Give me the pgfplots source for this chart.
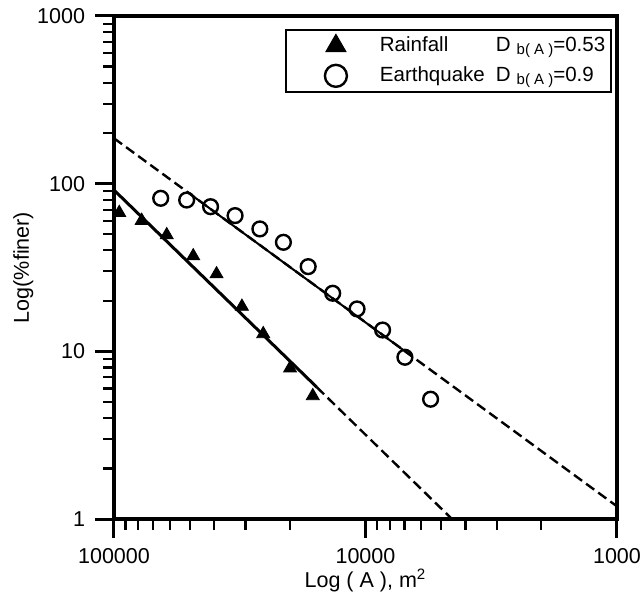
\documentclass[border=0pt]{standalone}
\usepackage{pgfplots}
\pgfplotsset{compat=1.18}
\usepackage{fontspec}
\setmainfont{Liberation Sans}

\newcommand{\dba}{D\hspace{3bp}\raisebox{-1.5bp}{\fontsize{7.5}{7.5}\selectfont b( A )}}

\begin{document}
\begin{tikzpicture}
\begin{axis}[
    width=251.5bp, height=251.5bp, scale only axis,
    xmode=log, ymode=log,
    x dir=reverse,
    xmin=1000, xmax=100000,
    ymin=1, ymax=1000,
    xtick={1000,10000,100000},
    xticklabels={1000,10000,100000},
    ytick={1,10,100,1000},
    yticklabels={1,10,100,1000},
    minor xtick={2000,3000,4000,5000,6000,7000,8000,9000,20000,30000,40000,50000,60000,70000,80000,90000},
    minor ytick={2,3,4,5,6,7,8,9,20,30,40,50,60,70,80,90,200,300,400,500,600,700,800,900},
    xtick pos=bottom, ytick pos=left,
    tick align=outside,
    major tick length=9.5bp, minor tick length=5.3bp,
    major tick style={line width=1.5bp, black},
    minor tick style={line width=1.1bp, black},
    axis line style={line width=1.7bp},
    tick label style={font=\fontsize{10.8}{12}\selectfont},
    xticklabel shift=1.5bp, yticklabel shift=1.5bp,
    label style={font=\fontsize{10.8}{12}\selectfont},
    xlabel={Log ( A ), m\textsuperscript{2}},
    ylabel={Log(\%finer)},
    xlabel style={at={(axis description cs:0.5,-0.137)}, anchor=base},
    ylabel style={at={(axis description cs:-0.169,0.5)}, anchor=base, rotate=0},
    legend style={at={(axis description cs:0.99,0.974)}, anchor=north east,
        draw=black, line width=0.75bp, inner xsep=2bp, inner ysep=2bp,
        font=\fontsize{10.3}{12}\selectfont,
        row sep=3bp,
        nodes={inner sep=1bp},
        cells={anchor=west}},
    legend image code/.code={
        \path[draw=none, fill=none] (-23bp,-6bp) rectangle (21bp,6bp);
        \draw[#1, mark size=5.5bp] plot coordinates {(0bp,0bp)};
    },
]
% fitted lines
\addplot[black, line width=1.5bp, forget plot] coordinates {(100000,91.6) (15600,6.1)};
\addplot[black, line width=1.2bp, dash pattern=on 5bp off 2.5bp, forget plot] coordinates {(15600,6.1) (4530,1)};
\addplot[black, line width=1.2bp, dash pattern=on 5bp off 2.5bp, forget plot] coordinates {(100000,186.5) (1000,1.19)};
\addplot[black, line width=1bp, forget plot] coordinates {(51300,89.6) (6530,9.32)};

% rainfall
\addplot[only marks, mark=triangle*, mark size=3.75bp, black] coordinates {
    (95300,67.1) (77600,60.2) (61700,49.4) (48400,37.0) (39100,28.9)
    (31000,18.5) (25500,12.7) (19950,7.93) (16200,5.42)
};
\addlegendentry{\makebox[58bp][l]{Rainfall}\dba=0.53}

% earthquake
\addplot[only marks, mark=o, mark size=3.7bp, line width=1.2bp, black] coordinates {
    (65200,81.8) (51400,79.9) (41300,72.9) (33000,64.5) (26300,53.7) (21200,44.7)
    (16900,32.0) (13500,22.2) (10800,17.9) (8550,13.4) (6970,9.22) (5510,5.18)
};
\addlegendentry{\makebox[58bp][l]{Earthquake}\dba=0.9}
\end{axis}
\pgfresetboundingbox
\path ([shift={(-57bp,-38.5bp)}]current axis.south west) rectangle ([shift={(12bp,8bp)}]current axis.north east);
\end{tikzpicture}
\end{document}
